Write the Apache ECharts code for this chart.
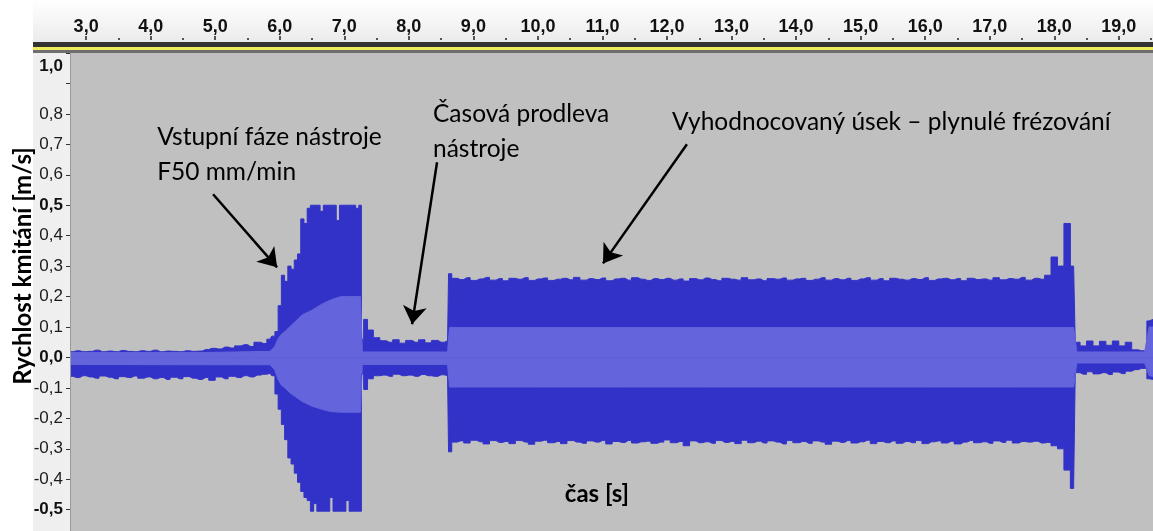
<!DOCTYPE html>
<html>
<head>
<meta charset="utf-8">
<script src="https://cdn.jsdelivr.net/npm/echarts@6/dist/echarts.min.js"></script>
<style>
  html, body { margin: 0; padding: 0; background: #fff; }
  #chart { width: 1153px; height: 531px; }
</style>
</head>
<body>
<div id="chart"></div>
<script>
// ruler / scale ticks
const timeTicks = [3, 4, 5, 6, 7, 8, 9, 10, 11, 12, 13, 14, 15, 16, 17, 18, 19];
const halfTicks = [3.5, 4.5, 5.5, 6.5, 7.5, 8.5, 9.5, 10.5, 11.5, 12.5, 13.5, 14.5, 15.5, 16.5, 17.5, 18.5, 19.5];
const levelTicks = [-0.5, -0.4, -0.3, -0.2, -0.1, 0, 0.1, 0.2, 0.3, 0.4, 0.5, 0.6, 0.7, 0.8, 0.9, 1.0];
const levelLabels = [-0.5, -0.4, -0.3, -0.2, -0.1, 0, 0.1, 0.2, 0.3, 0.4, 0.5, 0.6, 0.7, 0.8, 1.0];

// peak envelope (dark blue), time in s, value in m/s
const peakT = [2.75, 2.85, 2.95, 3.05, 3.15, 3.25, 3.35, 3.45, 3.55, 3.65,
  3.75, 3.85, 3.95, 4.05, 4.15, 4.25, 4.35, 4.45, 4.55, 4.65,
  4.75, 4.85, 4.95, 5.05, 5.15, 5.25, 5.35, 5.45, 5.55, 5.65,
  5.75, 5.85,
  5.9, 5.95, 6.0, 6.05, 6.1, 6.15, 6.2, 6.25, 6.3, 6.35,
  6.4, 6.45, 6.5, 6.55, 6.6, 6.65, 6.7, 6.75, 6.8, 6.85,
  6.9, 6.95, 7.0, 7.05, 7.1, 7.15, 7.2, 7.25,
  7.28, 7.32, 7.4, 7.5, 7.6, 7.7, 7.8, 7.9, 8.0, 8.1, 8.2, 8.3, 8.4, 8.5, 8.6,
  8.63,
  8.7, 8.8, 8.9, 9.0, 9.1, 9.2, 9.3, 9.4, 9.5, 9.6,
  9.7, 9.8, 9.9, 10.0, 10.1, 10.2, 10.3, 10.4, 10.5, 10.6,
  10.7, 10.8, 10.9, 11.0, 11.1, 11.2, 11.3, 11.4, 11.5, 11.6,
  11.7, 11.8, 11.9, 12.0, 12.1, 12.2, 12.3, 12.4, 12.5, 12.6,
  12.7, 12.8, 12.9, 13.0, 13.1, 13.2, 13.3, 13.4, 13.5, 13.6,
  13.7, 13.8, 13.9, 14.0, 14.1, 14.2, 14.3, 14.4, 14.5, 14.6,
  14.7, 14.8, 14.9, 15.0, 15.1, 15.2, 15.3, 15.4, 15.5, 15.6,
  15.7, 15.8, 15.9, 16.0, 16.1, 16.2, 16.3, 16.4, 16.5, 16.6,
  16.7, 16.8, 16.9, 17.0, 17.1, 17.2, 17.3, 17.4, 17.5, 17.6,
  17.7, 17.8, 17.9, 18.0, 18.1, 18.2, 18.3,
  18.35, 18.45, 18.55, 18.65, 18.75, 18.85, 18.95, 19.05, 19.15, 19.25, 19.35, 19.4, 19.47, 19.53];

const peakMax = [0.019, 0.022, 0.019, 0.02, 0.024, 0.019, 0.021, 0.019, 0.023, 0.02,
  0.019, 0.022, 0.02, 0.024, 0.019, 0.021, 0.02, 0.019, 0.022, 0.02,
  0.021, 0.026, 0.03, 0.028, 0.034, 0.031, 0.038, 0.042, 0.036, 0.05,
  0.046, 0.06,
  0.07, 0.085, 0.17, 0.27, 0.25, 0.3, 0.29, 0.32, 0.34, 0.455,
  0.44, 0.49, 0.5, 0.5, 0.5, 0.48, 0.5, 0.5, 0.5, 0.5,
  0.45, 0.5, 0.5, 0.5, 0.5, 0.5, 0.49, 0.5,
  0.06, 0.125, 0.09, 0.065, 0.055, 0.05, 0.058, 0.047, 0.056, 0.05, 0.058, 0.048, 0.056, 0.05, 0.055,
  0.275,
  0.26, 0.256, 0.262, 0.253, 0.258, 0.263, 0.254, 0.259, 0.252, 0.26,
  0.257, 0.262, 0.253, 0.258, 0.261, 0.253, 0.257, 0.26, 0.255, 0.263,
  0.254, 0.259, 0.256, 0.261, 0.252, 0.258, 0.26, 0.254, 0.262, 0.257,
  0.253, 0.259, 0.256, 0.26, 0.254, 0.258, 0.251, 0.259, 0.255, 0.261,
  0.256, 0.252, 0.26, 0.257, 0.254, 0.262, 0.255, 0.258, 0.252, 0.259,
  0.257, 0.261, 0.254, 0.258, 0.26, 0.253, 0.257, 0.262, 0.254, 0.259,
  0.255, 0.26, 0.253, 0.258, 0.262, 0.254, 0.259, 0.252, 0.26, 0.257,
  0.254, 0.259, 0.256, 0.262, 0.253, 0.258, 0.26, 0.255, 0.259, 0.252,
  0.26, 0.256, 0.258, 0.254, 0.262, 0.255, 0.259, 0.257, 0.263, 0.254,
  0.26, 0.257, 0.27, 0.33, 0.3, 0.44, 0.3,
  0.05, 0.038, 0.054, 0.038, 0.053, 0.04, 0.054, 0.038, 0.05, 0.025, 0.022, 0.022, 0.12, 0.125];

const peakMin = [-0.062, -0.066, -0.06, -0.064, -0.068, -0.061, -0.065, -0.07, -0.063, -0.066,
  -0.061, -0.068, -0.064, -0.07, -0.066, -0.072, -0.065, -0.07, -0.063, -0.068,
  -0.072, -0.066, -0.075, -0.064, -0.07, -0.062, -0.066, -0.06, -0.064, -0.058,
  -0.055, -0.052,
  -0.06, -0.12, -0.17, -0.22, -0.27, -0.33, -0.35, -0.38, -0.41, -0.44,
  -0.46, -0.47, -0.505, -0.48, -0.505, -0.505, -0.505, -0.505, -0.46, -0.505,
  -0.505, -0.505, -0.505, -0.47, -0.505, -0.505, -0.505, -0.505,
  -0.055, -0.105, -0.07, -0.06, -0.058, -0.062, -0.055, -0.06, -0.058, -0.062, -0.056, -0.06, -0.062, -0.057, -0.06,
  -0.31,
  -0.278, -0.274, -0.281, -0.272, -0.277, -0.284, -0.273, -0.279, -0.276, -0.283,
  -0.273, -0.278, -0.285, -0.275, -0.272, -0.28, -0.276, -0.283, -0.273, -0.278,
  -0.282, -0.274, -0.278, -0.273, -0.284, -0.276, -0.279, -0.273, -0.281, -0.277,
  -0.275, -0.282, -0.278, -0.271, -0.28, -0.276, -0.29, -0.274, -0.28, -0.277,
  -0.282, -0.273, -0.279, -0.276, -0.283, -0.272, -0.28, -0.275, -0.281, -0.274,
  -0.278, -0.284, -0.273, -0.28, -0.276, -0.282, -0.274, -0.278, -0.285, -0.275,
  -0.279, -0.273, -0.281, -0.277, -0.272, -0.283, -0.276, -0.28, -0.274, -0.282,
  -0.276, -0.28, -0.273, -0.283, -0.277, -0.274, -0.281, -0.275, -0.284, -0.278,
  -0.273, -0.28, -0.277, -0.282, -0.274, -0.279, -0.272, -0.281, -0.276, -0.278,
  -0.275, -0.281, -0.279, -0.29, -0.3, -0.37, -0.43,
  -0.05, -0.055, -0.047, -0.054, -0.05, -0.056, -0.048, -0.053, -0.045, -0.04, -0.036, -0.036, -0.07, -0.072];

// RMS envelope (light blue)
const rmsT = [2.75, 4.8, 5.3, 5.85, 5.92, 5.97, 6.02, 6.08, 6.15, 6.25, 6.35, 6.5, 6.65, 6.8, 6.95, 7.1, 7.25,
  7.28, 8.6, 8.63, 18.3, 18.35, 19.4, 19.47, 19.53];
const rmsMax = [0.016, 0.016, 0.018, 0.02, 0.035, 0.06, 0.075, 0.085, 0.1, 0.12, 0.14, 0.155, 0.175, 0.19, 0.2, 0.2, 0.2,
  0.018, 0.018, 0.098, 0.098, 0.018, 0.018, 0.1, 0.1];
const rmsMin = [-0.023, -0.024, -0.024, -0.024, -0.04, -0.07, -0.09, -0.1, -0.115, -0.13, -0.145, -0.16, -0.17, -0.178, -0.18, -0.18, -0.18,
  -0.023, -0.023, -0.097, -0.097, -0.018, -0.018, -0.06, -0.062];

// annotations: [time, value]
const notes = [
  { text: "Vstupní fáze nástroje\nF50 mm/min", at: [4.1, 0.667] },
  { text: "Časová prodleva\nnástroje", at: [8.374, 0.742] },
  { text: "Vyhodnocovaný úsek – plynulé frézování", at: [12.078, 0.773] },
];
const axisTitle = { text: "čas [s]", at: [10.915, -0.448] };
// arrows: [fromT, fromV, toT, toV]
const arrows = [
  [4.967, 0.536, 5.959, 0.296],
  [8.437, 0.641, 8.05, 0.109],
  [12.309, 0.70, 11.008, 0.309],
];

const DARK = "#3232c8";
const LIGHT = "#6464dc";
const fmt = (v) => (Math.round(v * 10) / 10).toFixed(1).replace(".", ",");
const pairs = (t, v) => t.map((x, i) => [x, v[i]]);

const area = (data, color, step) => ({
  type: "line",
  data: data,
  step: step,
  symbol: "none",
  silent: true,
  z: 3,
  lineStyle: { width: 1, color: color },
  itemStyle: { color: color },
  areaStyle: { color: color, opacity: 1 },
});

const chart = echarts.init(document.getElementById("chart"));

const rmsTop = area(pairs(rmsT, rmsMax), LIGHT, false);
rmsTop.z = 4;
rmsTop.markLine = {
  silent: true,
  animation: false,
  symbol: ["none", "arrow"],
  symbolSize: 18,
  label: { show: false },
  lineStyle: { color: "#000", width: 2.5, type: "solid" },
  data: arrows.map((a) => [{ coord: [a[0], a[1]] }, { coord: [a[2], a[3]] }]),
};

const option = {
  animation: false,
  backgroundColor: "#ffffff",
  grid: {
    left: 70,
    right: 0,
    top: 53,
    bottom: 0,
    outerBoundsMode: "none",
    containLabel: false,
    show: true,
    backgroundColor: "#c0c0c0",
    borderWidth: 0,
  },
  xAxis: [
    {
      type: "value",
      min: 2.75,
      max: 19.53,
      position: "top",
      offset: 13,
      z: 5,
      axisLine: { show: false, onZero: false },
      splitLine: { show: false },
      axisTick: { show: true, length: 4, customValues: timeTicks, lineStyle: { color: "#222", width: 1.5 } },
      axisLabel: {
        customValues: timeTicks,
        margin: 4,
        formatter: fmt,
        fontFamily: "Liberation Sans",
        fontWeight: "bold",
        fontSize: 18,
        color: "#111",
      },
    },
    {
      type: "value",
      min: 2.75,
      max: 19.53,
      position: "top",
      offset: 13,
      z: 5,
      axisLine: { show: false, onZero: false },
      splitLine: { show: false },
      axisLabel: { show: false },
      axisTick: { show: true, length: 2, customValues: halfTicks, lineStyle: { color: "#222", width: 1.5 } },
    },
  ],
  yAxis: {
    type: "value",
    min: -0.57,
    max: 1.0,
    z: 5,
    name: "Rychlost kmitání [m/s]",
    nameLocation: "middle",
    nameRotate: 90,
    nameGap: 35,
    nameMoveOverlap: false,
    nameTextStyle: {
      fontFamily: "Lato",
      fontWeight: "bold",
      fontSize: 24,
      color: "#000",
      padding: [0, 0, 0, 52],
    },
    axisLine: { show: true, onZero: false, lineStyle: { color: "#9a9a9a", width: 1 } },
    splitLine: { show: false },
    axisTick: { show: true, length: 4, customValues: levelTicks, lineStyle: { color: "#333" } },
    axisLabel: {
      customValues: levelLabels,
      margin: 7,
      fontFamily: "Liberation Sans",
      fontSize: 17,
      color: "#1a1a1a",
      formatter: (v) => {
        const s = fmt(v);
        if (Math.abs(v - 1) < 1e-6) return "{t|" + s + "}";
        if (s === "0,5" || s === "0,0" || s === "-0,5") return "{b|" + s + "}";
        return s;
      },
      rich: {
        b: { fontFamily: "Liberation Sans", fontSize: 17, fontWeight: "bold", color: "#111" },
        t: { fontFamily: "Liberation Sans", fontSize: 17, fontWeight: "bold", color: "#111", padding: [27, 0, 0, 0] },
      },
    },
  },
  series: [
    area(pairs(peakT, peakMax), DARK, "middle"),
    area(pairs(peakT, peakMin), DARK, "middle"),
    area(pairs(rmsT, rmsMin), LIGHT, false),
    rmsTop,
  ],
};

chart.setOption(option);

// panel chrome + text annotations positioned through the grid's scales
const chrome = [
  {
    type: "rect", z: 1, silent: true,
    shape: { x: 33, y: 0, width: 1120, height: 42 },
    style: { fill: { type: "linear", x: 0, y: 0, x2: 0, y2: 1, colorStops: [{ offset: 0, color: "#ffffff" }, { offset: 1, color: "#ebebeb" }] } },
  },
  { type: "rect", z: 1, silent: true, shape: { x: 33, y: 42, width: 1120, height: 5 }, style: { fill: "#333333" } },
  { type: "rect", z: 1, silent: true, shape: { x: 33, y: 47, width: 1120, height: 3 }, style: { fill: "#eded5c" } },
  { type: "rect", z: 1, silent: true, shape: { x: 33, y: 50, width: 1120, height: 3 }, style: { fill: "#6e6e6e" } },
  { type: "rect", z: 1, silent: true, shape: { x: 33, y: 53, width: 37, height: 478 }, style: { fill: "#efefef" } },
];

const texts = notes.map((n) => {
  const p = chart.convertToPixel({ gridIndex: 0 }, n.at);
  return {
    type: "text", z: 20, silent: true, x: p[0], y: p[1],
    style: {
      text: n.text, fill: "#000", font: "24.5px Lato", lineHeight: 35,
      align: "left", verticalAlign: "middle", textAlign: "left", textVerticalAlign: "middle",
    },
  };
});
const tp = chart.convertToPixel({ gridIndex: 0 }, axisTitle.at);
texts.push({
  type: "text", z: 20, silent: true, x: tp[0], y: tp[1],
  style: {
    text: axisTitle.text, fill: "#000", font: "bold 24px Lato",
    align: "center", verticalAlign: "middle", textAlign: "center", textVerticalAlign: "middle",
  },
});

chart.setOption({ graphic: chrome.concat(texts) });
</script>
</body>
</html>
